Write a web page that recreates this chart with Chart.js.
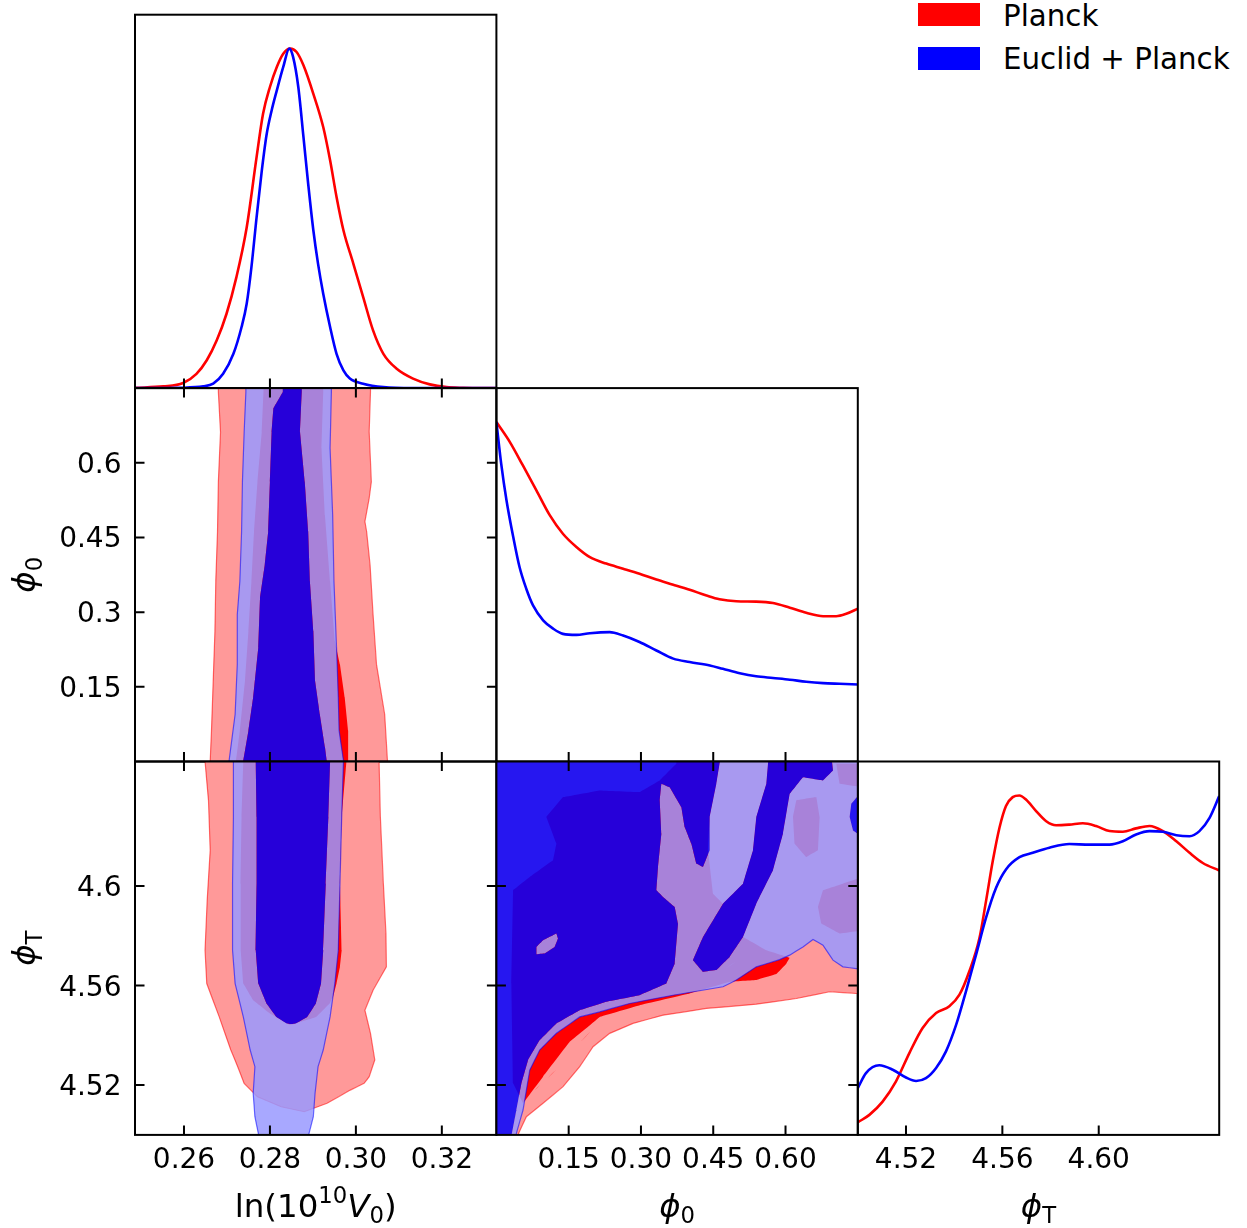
<!DOCTYPE html>
<html>
<head>
<meta charset="utf-8">
<script src="https://cdn.jsdelivr.net/npm/chart.js@4.4.1/dist/chart.umd.min.js"></script>
<style>
  body { margin: 0; background: #fff; }
  #fig { position: relative; width: 1247px; height: 1228px; }
  #fig canvas { position: absolute; left: 0; top: 0; }
  .leg { position: absolute; font-family: 'DejaVu Sans', sans-serif; font-size: 29.3px; line-height: 29px; color: #000; white-space: nowrap; }
  .sw { position: absolute; left: 918px; width: 62px; height: 23px; }
</style>
</head>
<body>
<div id="fig">
  <div class="sw" style="top:3px;background:#ff0000"></div>
  <div class="leg" style="left:1003px;top:1.5px">Planck</div>
  <div class="sw" style="top:47px;background:#0000ff"></div>
  <div class="leg" style="left:1003px;top:45px">Euclid + Planck</div>
</div>
<script>
// axis ticks
const lnV0Ticks = [0.26, 0.28, 0.30, 0.32];
const lnV0TickLabels = ['0.26', '0.28', '0.30', '0.32'];
const phi0Ticks = [0.15, 0.30, 0.45, 0.60];
const phi0XTickLabels = ['0.15', '0.30', '0.45', '0.60'];
const phi0YTickLabels = ['0.15', '0.3', '0.45', '0.6'];
const phiTTicks = [4.52, 4.56, 4.60];
const phiTXTickLabels = ['4.52', '4.56', '4.60'];
const phiTYTickLabels = ['4.52', '4.56', '4.6'];

// 1D marginals (normalised to peak 1)
const lnV0PlanckX = [0.2486,0.2552,0.2598,0.2629,0.2653,0.2676,0.2699,0.2722,0.2746,0.2769,0.2784,0.2800,0.2816,0.2831,0.2847,0.2862,0.2878,0.2901,0.2924,0.2940,0.2955,0.2971,0.2994,0.3017,0.3040,0.3064,0.3095,0.3133,0.3172,0.3211,0.3250,0.3327];
const lnV0PlanckY = [0.001,0.005,0.015,0.042,0.082,0.140,0.219,0.327,0.474,0.681,0.808,0.887,0.946,0.985,1.0,0.990,0.951,0.867,0.769,0.671,0.563,0.465,0.367,0.268,0.170,0.101,0.057,0.028,0.011,0.003,0.001,0.0];
const lnV0EuclidX = [0.2486,0.2591,0.2645,0.2668,0.2691,0.2715,0.2734,0.2746,0.2757,0.2769,0.2781,0.2792,0.2804,0.2816,0.2831,0.2845,0.2854,0.2866,0.2878,0.2889,0.2901,0.2912,0.2924,0.2940,0.2955,0.2971,0.2986,0.3017,0.3064,0.3133,0.3327];
const lnV0EuclidY = [0,0.001,0.005,0.013,0.042,0.101,0.180,0.249,0.357,0.504,0.640,0.745,0.818,0.877,0.946,1.0,0.975,0.887,0.740,0.602,0.465,0.366,0.278,0.180,0.101,0.052,0.028,0.013,0.003,0,0];

const phi0PlanckX = [0,0.028,0.055,0.083,0.111,0.138,0.166,0.194,0.228,0.263,0.297,0.332,0.367,0.401,0.436,0.463,0.498,0.539,0.574,0.609,0.643,0.678,0.705,0.726,0.75];
const phi0PlanckY = [1.0,0.941,0.872,0.799,0.725,0.671,0.632,0.602,0.583,0.568,0.553,0.536,0.521,0.506,0.489,0.478,0.472,0.471,0.467,0.453,0.438,0.428,0.428,0.435,0.450];
const phi0EuclidX = [0,0.010,0.021,0.035,0.048,0.062,0.076,0.097,0.118,0.138,0.166,0.194,0.235,0.263,0.297,0.332,0.367,0.401,0.443,0.470,0.505,0.539,0.574,0.609,0.643,0.678,0.712,0.75];
const phi0EuclidY = [1.0,0.877,0.769,0.661,0.573,0.509,0.460,0.416,0.391,0.376,0.373,0.378,0.381,0.371,0.352,0.327,0.303,0.293,0.283,0.273,0.260,0.251,0.246,0.241,0.235,0.231,0.229,0.227];

const phiTPlanckX = [4.5,4.5048,4.5103,4.5158,4.5214,4.5269,4.5325,4.5380,4.5422,4.5463,4.5505,4.5532,4.5560,4.5588,4.5615,4.5643,4.5671,4.5698,4.5740,4.5782,4.5823,4.5878,4.5934,4.5989,4.6045,4.6100,4.6155,4.6211,4.6266,4.6322,4.6377,4.6432,4.65];
const phiTPlanckY = [0.037,0.059,0.098,0.157,0.241,0.315,0.359,0.379,0.413,0.482,0.580,0.688,0.806,0.905,0.969,0.995,1.0,0.988,0.954,0.924,0.912,0.914,0.918,0.910,0.895,0.893,0.903,0.910,0.895,0.865,0.831,0.801,0.779];
const phiTEuclidX = [4.5,4.5034,4.5089,4.5145,4.52,4.5242,4.5283,4.5325,4.5366,4.5408,4.5449,4.5491,4.5532,4.5574,4.5615,4.5671,4.5726,4.5795,4.5878,4.5962,4.6045,4.6100,4.6155,4.6211,4.6266,4.6322,4.6377,4.6418,4.6460,4.65];
const phiTEuclidY = [0.138,0.182,0.205,0.192,0.169,0.159,0.167,0.197,0.246,0.324,0.423,0.531,0.639,0.728,0.782,0.818,0.831,0.846,0.857,0.855,0.855,0.865,0.885,0.895,0.893,0.883,0.880,0.895,0.934,0.998];

// 2D contours: ln(1e10 V0) vs phi0, left / right edges from top to bottom
const vpRedOuterL = [[0.2680,0.78],[0.2680,0.742],[0.2685,0.662],[0.2680,0.562],[0.2678,0.462],[0.2674,0.362],[0.2672,0.262],[0.2668,0.162],[0.2664,0.062],[0.2660,-0.02]];
const vpRedOuterR = [[0.3034,0.78],[0.3034,0.742],[0.3031,0.662],[0.3036,0.562],[0.3031,0.529],[0.3021,0.482],[0.3025,0.462],[0.3033,0.395],[0.3040,0.295],[0.3048,0.195],[0.3067,0.095],[0.3075,-0.02]];
const vpRedInnerL = [[0.2785,0.78],[0.2785,0.742],[0.2781,0.662],[0.2771,0.562],[0.2763,0.462],[0.2757,0.362],[0.2750,0.262],[0.2742,0.162],[0.2730,0.062],[0.2718,-0.02]];
const vpRedInnerR = [[0.2924,0.78],[0.2924,0.742],[0.2920,0.629],[0.2928,0.495],[0.2940,0.362],[0.2951,0.242],[0.2963,0.195],[0.2974,0.129],[0.2982,0.062],[0.2982,-0.02]];
const vpBlueOuterL = [[0.2744,0.78],[0.2744,0.742],[0.2740,0.662],[0.2736,0.562],[0.2734,0.462],[0.2730,0.362],[0.2724,0.295],[0.2724,0.195],[0.2719,0.095],[0.2705,0.002],[0.2700,-0.02]];
const vpBlueOuterR = [[0.2943,0.78],[0.2943,0.742],[0.2940,0.629],[0.2946,0.495],[0.2949,0.362],[0.2955,0.229],[0.2959,0.129],[0.2961,0.062],[0.2971,0.002],[0.2973,-0.02]];
const vpBlueInnerL = [[0.2830,0.77],[0.2830,0.742],[0.2808,0.709],[0.2804,0.662],[0.2800,0.562],[0.2796,0.462],[0.2788,0.395],[0.2777,0.329],[0.2773,0.229],[0.2761,0.129],[0.2750,0.062],[0.2738,0.002],[0.2735,-0.01]];
const vpBlueInnerR = [[0.2874,0.77],[0.2874,0.742],[0.2870,0.662],[0.2881,0.562],[0.2889,0.462],[0.2893,0.362],[0.2901,0.262],[0.2905,0.162],[0.2916,0.095],[0.2928,0.029],[0.2932,0.002],[0.2935,-0.01]];

// 2D contours: ln(1e10 V0) vs phiT (closed outlines)
const vtRedOuter = [[0.2649,4.66],[0.2649,4.650],[0.2657,4.6344],[0.2661,4.6143],[0.2654,4.5942],[0.2649,4.5742],[0.2653,4.5608],[0.2682,4.5474],[0.2709,4.5341],[0.2725,4.5274],[0.2740,4.5207],[0.2771,4.5153],[0.2826,4.5113],[0.2880,4.5093],[0.2933,4.5127],[0.2987,4.5180],[0.3019,4.5207],[0.3031,4.5234],[0.3044,4.5301],[0.3034,4.5408],[0.3021,4.5501],[0.3040,4.5581],[0.3071,4.5675],[0.3070,4.5809],[0.3064,4.6009],[0.3057,4.6277],[0.3054,4.650],[0.3054,4.66]];
const vtRedInner = [[0.2738,4.66],[0.2738,4.650],[0.2734,4.6277],[0.2732,4.6009],[0.2732,4.5742],[0.2738,4.5608],[0.2761,4.5541],[0.2800,4.5488],[0.2847,4.5441],[0.2908,4.5474],[0.2939,4.5528],[0.2947,4.5555],[0.2955,4.5608],[0.2963,4.5675],[0.2967,4.5742],[0.2963,4.6009],[0.2967,4.6277],[0.2978,4.650],[0.2978,4.66]];
const vtBlueOuter = [[0.2715,4.66],[0.2715,4.650],[0.2715,4.6277],[0.2713,4.6009],[0.2713,4.5742],[0.2719,4.5608],[0.2738,4.5474],[0.2754,4.5341],[0.2765,4.5274],[0.2761,4.5167],[0.2765,4.5073],[0.2773,4.5006],[0.2775,4.49],[0.2890,4.49],[0.2891,4.5006],[0.2901,4.5073],[0.2905,4.5167],[0.2912,4.5274],[0.2924,4.5341],[0.2940,4.5474],[0.2951,4.5608],[0.2959,4.5742],[0.2963,4.6009],[0.2967,4.6277],[0.2971,4.650],[0.2971,4.66]];
const vtBlueInner = [[0.2767,4.655],[0.2767,4.650],[0.2769,4.6277],[0.2769,4.6009],[0.2767,4.5742],[0.2773,4.5608],[0.2792,4.5528],[0.2815,4.5474],[0.2839,4.5448],[0.2849,4.5445],[0.2860,4.5448],[0.2887,4.5474],[0.2907,4.5528],[0.2919,4.5608],[0.2924,4.5742],[0.2930,4.6009],[0.2936,4.6277],[0.2940,4.650],[0.2940,4.655]];

// 2D contours: phi0 vs phiT
const ptRedOuter = [[-0.05,4.49],[0.045,4.49],[0.046,4.5006],[0.0622,4.5073],[0.0968,4.5127],[0.1383,4.5194],[0.1729,4.5274],[0.2006,4.5354],[0.2351,4.5408],[0.2835,4.5448],[0.3458,4.5481],[0.4357,4.5508],[0.5394,4.5525],[0.6224,4.5548],[0.6916,4.5575],[0.7469,4.5568],[0.78,4.5568],[0.78,4.66],[-0.05,4.66]];
const ptRedInner = [[0.0553,4.5127],[0.0968,4.5234],[0.1521,4.5374],[0.2144,4.5474],[0.2974,4.5521],[0.4011,4.5568],[0.4841,4.5615],[0.5394,4.5622],[0.5809,4.5646],[0.6017,4.5688],[0.6086,4.5712],[0.5600,4.5742],[0.5118,4.5795],[0.5394,4.5929],[0.574,4.6063],[0.5947,4.621],[0.6086,4.637],[0.6362,4.6437],[0.6777,4.6424],[0.6985,4.6464],[0.6985,4.6571],[0.5671,4.6571],[0.5602,4.6411],[0.5394,4.6277],[0.5325,4.6143],[0.5118,4.6009],[0.4703,4.5929],[0.4495,4.5969],[0.4391,4.6143],[0.4426,4.6277],[0.4564,4.6411],[0.4703,4.6571],[0.3734,4.6571],[0.3734,4.6491],[0.3389,4.6424],[0.2974,4.6377],[0.2144,4.6384],[0.1383,4.6357],[0.1037,4.6277],[0.1245,4.617],[0.1176,4.6103],[0.0692,4.6036],[0.0346,4.5983],[0.0311,4.5608],[0.0346,4.5207]];
const ptRedInnerPatch1 = [[0.6224,4.6344],[0.6639,4.6357],[0.6708,4.6277],[0.6674,4.6143],[0.6432,4.6116],[0.6189,4.617],[0.6155,4.6277]];
const ptRedInnerPatch2 = [[0.6777,4.5983],[0.7192,4.6009],[0.76,4.6036],[0.76,4.5822],[0.7123,4.5809],[0.6743,4.5849],[0.6674,4.5916]];
const ptRedInnerPatch3 = [[0.7054,4.6491],[0.76,4.6491],[0.76,4.6397],[0.7123,4.6411]];
const ptBlueOuter = [[-0.05,4.49],[0.040,4.49],[0.0415,4.5006],[0.0553,4.51],[0.0692,4.526],[0.0899,4.5341],[0.1245,4.5408],[0.1729,4.5474],[0.2144,4.5494],[0.2766,4.5528],[0.3665,4.5561],[0.4703,4.5595],[0.4979,4.5622],[0.5394,4.5675],[0.5878,4.5704],[0.6086,4.5722],[0.6362,4.5755],[0.657,4.5785],[0.6777,4.5762],[0.6985,4.5702],[0.7192,4.5675],[0.7469,4.5668],[0.78,4.5668],[0.78,4.66],[-0.05,4.66]];
const ptBlueInnerA = [[-0.03,4.658],[0.4703,4.658],[0.4564,4.6411],[0.4426,4.6277],[0.4426,4.6143],[0.4288,4.6076],[0.4149,4.609],[0.4046,4.617],[0.3907,4.6237],[0.3838,4.6317],[0.3596,4.6397],[0.3423,4.6411],[0.3389,4.6344],[0.3423,4.621],[0.3354,4.6076],[0.332,4.5983],[0.3458,4.5956],[0.37,4.5916],[0.3769,4.5849],[0.37,4.5688],[0.3527,4.5608],[0.2974,4.5561],[0.2282,4.5535],[0.1729,4.5501],[0.1245,4.5448],[0.0899,4.5381],[0.0657,4.5301],[0.0519,4.5207],[0.0415,4.51],[0.0311,4.4993],[-0.03,4.4993]];
const ptBlueIsland = [[0.083,4.5755],[0.0968,4.5782],[0.1245,4.5809],[0.1279,4.5789],[0.121,4.5755],[0.1003,4.5729],[0.083,4.5726]];
const ptBlueInnerC = [[0.408,4.5702],[0.4288,4.5795],[0.4703,4.5929],[0.5118,4.6009],[0.5325,4.6143],[0.5394,4.6277],[0.5602,4.6411],[0.5671,4.6571],[0.6916,4.6571],[0.6985,4.6464],[0.6777,4.6424],[0.6362,4.6437],[0.6086,4.637],[0.5947,4.621],[0.574,4.6063],[0.5394,4.5929],[0.5118,4.5795],[0.4841,4.5715],[0.4564,4.5662],[0.4288,4.5655]];
const ptBlueInnerD = [[0.76,4.6384],[0.7365,4.633],[0.7331,4.6277],[0.74,4.6223],[0.76,4.6197]];

// ---------------------------------------------------------------
const W = 1247, H = 1228;
const X0 = 135, Y0 = 14.7, PW = 361.4, PH = 373.4;
const FONT = "'DejaVu Sans', sans-serif";
const RED = '#ff0000', BLUE = '#0000ff';
const redOuterFill = '#ff9999', blueOuterFill = 'rgba(153,153,255,0.85)', blueInnerFill = 'rgba(0,0,255,0.85)';
const redEdge = 'rgba(255,0,0,0.55)', blueEdge = 'rgba(0,0,255,0.55)';
// tiny tension keeps the straight outline but avoids chart.js' pixel-collapsing fast path
const FLAT = 0.0001;

const lnV0Title = [['ln(10', 'r'], ['10', 'sup'], ['V', 'i'], ['0', 'sub'], [')', 'r']];
const phi0Title = [['ϕ', 'i'], ['0', 'sub']];
const phiTTitle = [['ϕ', 'i'], ['T', 'sub']];

function signedArea(pts) {
  let s = 0;
  for (let i = 0; i < pts.length; i++) {
    const [x1, y1] = pts[i], [x2, y2] = pts[(i + 1) % pts.length];
    s += x1 * y2 - x2 * y1;
  }
  return s;
}
function orient(pts, sign) {
  return Math.sign(signedArea(pts)) === sign ? pts : pts.slice().reverse();
}
// one path for a region with holes (nonzero winding, bridges cancel out)
function compose(rings) {
  const first = orient(rings[0][0], rings[0][1]);
  const out = [...first, first[0]];
  for (let k = 1; k < rings.length; k++) {
    const r = orient(rings[k][0], rings[k][1]);
    out.push(...r, r[0], first[0]);
  }
  return out.map(([x, y]) => ({x, y}));
}
const band = (l, r) => l.concat(r.slice().reverse());

const curve = (xs, ys, color) => ({
  data: xs.map((x, i) => ({x, y: ys[i]})),
  borderColor: color, borderWidth: 2.6, fill: false, cubicInterpolationMode: 'monotone'
});
const patch = (rings, color) => ({
  data: compose(rings), backgroundColor: color, borderColor: 'rgba(0,0,0,0)',
  borderWidth: 0, fill: 'shape', tension: FLAT
});
const edge = (pts, color) => ({
  data: pts.concat([pts[0]]).map(([x, y]) => ({x, y})),
  borderColor: color, borderWidth: 1.2, fill: false, tension: FLAT
});

function drawMath(ctx, parts, size) {
  const segs = parts.map(([t, k]) => {
    const small = k === 'sup' || k === 'sub';
    const font = (k === 'i' ? 'italic ' : '') + (small ? size * 0.7 : size) + 'px ' + FONT;
    ctx.font = font;
    const dy = k === 'sup' ? -size * 0.42 : k === 'sub' ? size * 0.2 : 0;
    return {t, font, dy, w: ctx.measureText(t).width};
  });
  let x = -segs.reduce((s, g) => s + g.w, 0) / 2;
  ctx.textAlign = 'left';
  ctx.textBaseline = 'alphabetic';
  for (const g of segs) {
    ctx.font = g.font;
    ctx.fillText(g.t, x, g.dy);
    x += g.w;
  }
}

const decorPlugin = {
  id: 'decor',
  afterDraw(chart, args, o) {
    const {ctx, chartArea: a} = chart;
    const sx = chart.scales.x, sy = chart.scales.y;
    const L = 9.5;
    ctx.save();
    ctx.strokeStyle = '#000';
    ctx.lineWidth = 2;
    ctx.beginPath();
    for (const v of o.xTicks || []) {
      const px = sx.getPixelForValue(v);
      if (o.bottom) { ctx.moveTo(px, a.bottom); ctx.lineTo(px, a.bottom - L); }
      if (o.top) { ctx.moveTo(px, a.top); ctx.lineTo(px, a.top + L); }
    }
    for (const v of o.yTicks || []) {
      const py = sy.getPixelForValue(v);
      if (o.left) { ctx.moveTo(a.left, py); ctx.lineTo(a.left + L, py); }
      if (o.right) { ctx.moveTo(a.right, py); ctx.lineTo(a.right - L, py); }
    }
    ctx.stroke();
    ctx.strokeRect(a.left, a.top, a.right - a.left, a.bottom - a.top);

    ctx.fillStyle = '#000';
    ctx.font = '28px ' + FONT;
    if (o.xLabels) {
      ctx.textAlign = 'center';
      ctx.textBaseline = 'alphabetic';
      o.xTicks.forEach((v, i) => ctx.fillText(o.xLabels[i], sx.getPixelForValue(v), a.bottom + 33));
    }
    if (o.yLabels) {
      ctx.textAlign = 'right';
      ctx.textBaseline = 'alphabetic';
      o.yTicks.forEach((v, i) => ctx.fillText(o.yLabels[i], a.left - 13.5, sy.getPixelForValue(v) + 10));
    }
    if (o.xTitle) {
      ctx.save();
      ctx.translate((a.left + a.right) / 2, a.bottom + 82);
      drawMath(ctx, o.xTitle, 32.5);
      ctx.restore();
    }
    if (o.yTitle) {
      ctx.save();
      ctx.translate(a.left - 100, (a.top + a.bottom) / 2);
      ctx.rotate(-Math.PI / 2);
      drawMath(ctx, o.yTitle, 32.5);
      ctx.restore();
    }
    ctx.restore();
  }
};

const fig = document.getElementById('fig');
function panel(r, c, xr, yr, datasets, decor) {
  const cv = document.createElement('canvas');
  cv.width = W;
  cv.height = H;
  fig.appendChild(cv);
  const left = X0 + c * PW, top = Y0 + r * PH;
  return new Chart(cv, {
    type: 'line',
    data: {datasets: datasets.map((d, i) => ({pointRadius: 0, pointHoverRadius: 0, order: -i, ...d}))},
    options: {
      responsive: false,
      animation: false,
      events: [],
      layout: {padding: {left, top, right: W - left - PW, bottom: H - top - PH}},
      scales: {
        x: {type: 'linear', min: xr[0], max: xr[1], display: false},
        y: {type: 'linear', min: yr[0], max: yr[1], display: false}
      },
      plugins: {legend: {display: false}, tooltip: {enabled: false}, decor}
    },
    plugins: [decorPlugin]
  });
}

const lnV0Range = [0.2486, 0.3327], phi0Range = [0, 0.75], phiTRange = [4.50, 4.65], densRange = [0, 1.1];
const all4 = {top: true, bottom: true, left: true, right: true};

// diagonal
panel(0, 0, lnV0Range, densRange, [
  curve(lnV0PlanckX, lnV0PlanckY, RED),
  curve(lnV0EuclidX, lnV0EuclidY, BLUE)
], {xTicks: lnV0Ticks, bottom: true});

panel(1, 1, phi0Range, densRange, [
  curve(phi0PlanckX, phi0PlanckY, RED),
  curve(phi0EuclidX, phi0EuclidY, BLUE)
], {xTicks: phi0Ticks, bottom: true});

panel(2, 2, phiTRange, densRange, [
  curve(phiTPlanckX, phiTPlanckY, RED),
  curve(phiTEuclidX, phiTEuclidY, BLUE)
], {xTicks: phiTTicks, bottom: true, xLabels: phiTXTickLabels, xTitle: phiTTitle});

// lower triangle
const vpRedOuter = band(vpRedOuterL, vpRedOuterR);
const vpBlueOuter = band(vpBlueOuterL, vpBlueOuterR);
const vpBlueInner = band(vpBlueInnerL, vpBlueInnerR);
panel(1, 0, lnV0Range, phi0Range, [
  patch([[vpRedOuter, 1]], redOuterFill),
  edge(vpRedOuter, redEdge),
  patch([[band(vpRedInnerL, vpRedInnerR), 1]], RED),
  patch([[vpBlueOuter, 1], [vpBlueInner, -1]], blueOuterFill),
  patch([[vpBlueInner, 1]], blueInnerFill),
  edge(vpBlueOuter, blueEdge)
], {xTicks: lnV0Ticks, yTicks: phi0Ticks, ...all4, yLabels: phi0YTickLabels, yTitle: phi0Title});

panel(2, 0, lnV0Range, phiTRange, [
  patch([[vtRedOuter, 1]], redOuterFill),
  edge(vtRedOuter, redEdge),
  patch([[vtRedInner, 1]], RED),
  patch([[vtBlueOuter, 1], [vtBlueInner, -1]], blueOuterFill),
  patch([[vtBlueInner, 1]], blueInnerFill),
  edge(vtBlueOuter, blueEdge)
], {xTicks: lnV0Ticks, yTicks: phiTTicks, ...all4, xLabels: lnV0TickLabels, yLabels: phiTYTickLabels, xTitle: lnV0Title, yTitle: phiTTitle});

panel(2, 1, phi0Range, phiTRange, [
  patch([[ptRedOuter, 1]], redOuterFill),
  edge(ptRedOuter, redEdge),
  patch([[ptRedInner, 1], [ptRedInnerPatch1, 1], [ptRedInnerPatch2, 1], [ptRedInnerPatch3, 1]], RED),
  patch([[ptBlueOuter, 1], [ptBlueInnerA, -1], [ptBlueIsland, 1], [ptBlueInnerC, -1], [ptBlueInnerD, -1]], blueOuterFill),
  patch([[ptBlueInnerA, 1], [ptBlueIsland, -1], [ptBlueInnerC, 1], [ptBlueInnerD, 1]], blueInnerFill),
  edge(ptBlueOuter, blueEdge)
], {xTicks: phi0Ticks, yTicks: phiTTicks, ...all4, xLabels: phi0XTickLabels, xTitle: phi0Title});
</script>
</body>
</html>
